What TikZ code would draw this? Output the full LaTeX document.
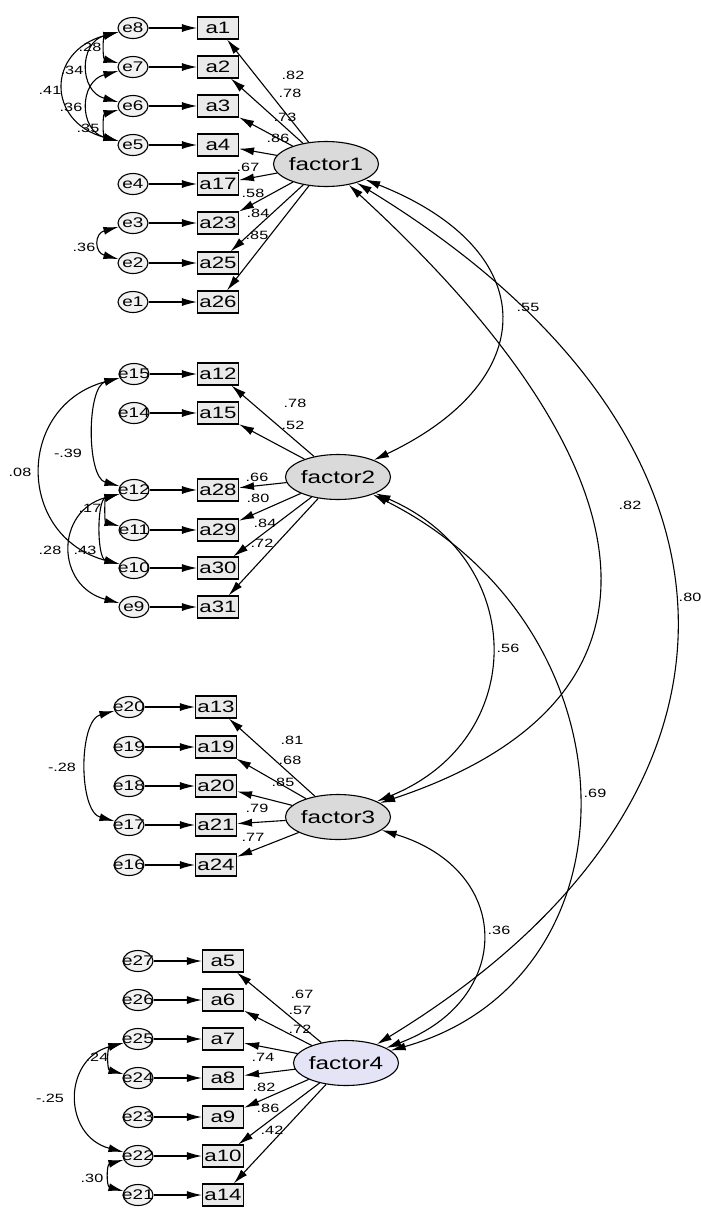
\documentclass[tikz,border=0pt]{standalone}
\usepackage{fontspec}
\setsansfont{Liberation Sans}[FakeStretch=1.35]
\usetikzlibrary{arrows.meta, shapes.geometric}
\definecolor{latent}{HTML}{DADADA}
\definecolor{latentb}{HTML}{E4E4F6}
\definecolor{item}{HTML}{EAEAEA}
\newcommand{\etxt}[1]{\makebox[0pt]{#1}}

\begin{document}
\begin{tikzpicture}[x=1pt, y=-1pt,
    >={Latex[length=15pt,width=8pt]}, font=\sffamily,
    fac/.style={ellipse, draw, fill=latent, line width=1.1pt, inner sep=0pt,
                minimum width=82pt, minimum height=45pt,
                font=\sffamily\fontsize{18}{18}\selectfont},
    obs/.style={rectangle, draw, fill=item, line width=1.1pt, inner sep=1pt,
                minimum width=41pt, minimum height=22pt,
                font=\sffamily\fontsize{16.5}{16.5}\selectfont},
    err/.style={ellipse, draw, fill=item!60, line width=1.1pt, inner sep=0pt,
                minimum width=30pt, minimum height=21pt,
                font=\sffamily\fontsize{14}{14}\selectfont},
    reg/.style={->, line width=1.1pt},
    cov/.style={<->, line width=1.1pt, bend right=75},
    cor/.style={<->, line width=1.1pt},
    est/.style={inner sep=0pt, font=\sffamily\fontsize{12}{12}\selectfont},
]
\useasboundingbox (0,0) rectangle (701,1211);

% factor 1
\node[fac] (f1) at (326,164) {factor1};
\node[err] (e8) at (133,28)  {\etxt{e8}}; \node[obs] (a1)  at (218,28)  {a1};
\node[err] (e7) at (133,67)  {\etxt{e7}}; \node[obs] (a2)  at (218,67)  {a2};
\node[err] (e6) at (133,106) {\etxt{e6}}; \node[obs] (a3)  at (218,106) {a3};
\node[err] (e5) at (133,145) {\etxt{e5}}; \node[obs] (a4)  at (218,145) {a4};
\node[err] (e4) at (133,184) {\etxt{e4}}; \node[obs] (a17) at (218,184) {a17};
\node[err] (e3) at (133,223) {\etxt{e3}}; \node[obs] (a23) at (218,223) {a23};
\node[err] (e2) at (133,263) {\etxt{e2}}; \node[obs] (a25) at (218,263) {a25};
\node[err] (e1) at (133,302) {\etxt{e1}}; \node[obs] (a26) at (218,302) {a26};

\draw[reg] (e8) -- (a1);  \draw[reg] (f1) -- (a1);
\draw[reg] (e7) -- (a2);  \draw[reg] (f1) -- (a2);
\draw[reg] (e6) -- (a3);  \draw[reg] (f1) -- (a3);
\draw[reg] (e5) -- (a4);  \draw[reg] (f1) -- (a4);
\draw[reg] (e4) -- (a17); \draw[reg] (f1) -- (a17);
\draw[reg] (e3) -- (a23); \draw[reg] (f1) -- (a23);
\draw[reg] (e2) -- (a25); \draw[reg] (f1) -- (a25);
\draw[reg] (e1) -- (a26); \draw[reg] (f1) -- (a26);

\draw[cov, looseness=1.35] (e8) to (e7);
\draw[cov, looseness=1.35] (e6) to (e5);
\draw[cov, looseness=1.5]  (e8) to (e6);
\draw[cov, looseness=1.5]  (e7) to (e5);
\draw[cov, looseness=1.75] (e8) to (e5);
\draw[cov, looseness=2.0]  (e3) to (e2);

\node[est] (l1) at (293,75)  {.82};
\node[est] (l2) at (290,93)  {.78};
\node[est] (l3) at (285,117) {.73};
\node[est] (l4) at (278,138) {.86};
\node[est] (l5) at (248,167) {.67};
\node[est] (l6) at (253,193) {.58};
\node[est] (l7) at (258,213) {.84};
\node[est] (l8) at (257,235) {.85};
\node[est] (c1) at (90,47)  {.28};
\node[est] (c2) at (72,70)  {.34};
\node[est] (c3) at (50,90)  {.41};
\node[est] (c4) at (71,107) {.36};
\node[est] (c5) at (88,128) {.35};
\node[est] (c6) at (84,247) {.36};

% factor 2
\node[fac] (f2) at (338,477) {factor2};
\node[err] (e15) at (134,374) {\etxt{e15}}; \node[obs] (a12) at (218,374) {a12};
\node[err] (e14) at (134,413) {\etxt{e14}}; \node[obs] (a15) at (218,413) {a15};
\node[err] (e12) at (134,490) {\etxt{e12}}; \node[obs] (a28) at (218,490) {a28};
\node[err] (e11) at (134,530) {\etxt{e11}}; \node[obs] (a29) at (218,530) {a29};
\node[err] (e10) at (134,568) {\etxt{e10}}; \node[obs] (a30) at (218,568) {a30};
\node[err] (e9)  at (134,607) {\etxt{e9}};  \node[obs] (a31) at (218,607) {a31};

\draw[reg] (e15) -- (a12); \draw[reg] (f2) -- (a12);
\draw[reg] (e14) -- (a15); \draw[reg] (f2) -- (a15);
\draw[reg] (e12) -- (a28); \draw[reg] (f2) -- (a28);
\draw[reg] (e11) -- (a29); \draw[reg] (f2) -- (a29);
\draw[reg] (e10) -- (a30); \draw[reg] (f2) -- (a30);
\draw[reg] (e9)  -- (a31); \draw[reg] (f2) -- (a31);

\draw[cov, looseness=1.48] (e15) to (e10);
\draw[cov, looseness=0.81] (e15) to (e12);
\draw[cov, looseness=1.23] (e12) to (e11);
\draw[cov, looseness=0.86] (e12) to (e10);
\draw[cov, looseness=1.56] (e12) to (e9);

\node[est] (l9)  at (295,403) {.78};
\node[est] (l10) at (293,425) {.52};
\node[est] (l11) at (257,477) {.66};
\node[est] (l12) at (258,498) {.80};
\node[est] (l13) at (265,523) {.84};
\node[est] (l14) at (262,543) {.72};
\node[est] (c7)  at (20,472)  {.08};
\node[est] (c8)  at (68,453)  {-.39};
\node[est] (c9)  at (90,508)  {.17};
\node[est] (c10) at (50,550)  {.28};
\node[est] (c11) at (85,550)  {.43};

% factor 3
\node[fac] (f3) at (338,817) {factor3};
\node[err] (e20) at (129,707) {\etxt{e20}}; \node[obs] (a13) at (216,707) {a13};
\node[err] (e19) at (129,747) {\etxt{e19}}; \node[obs] (a19) at (216,747) {a19};
\node[err] (e18) at (129,786) {\etxt{e18}}; \node[obs] (a20) at (216,786) {a20};
\node[err] (e17) at (129,825) {\etxt{e17}}; \node[obs] (a21) at (216,825) {a21};
\node[err] (e16) at (129,865) {\etxt{e16}}; \node[obs] (a24) at (216,865) {a24};

\draw[reg] (e20) -- (a13); \draw[reg] (f3) -- (a13);
\draw[reg] (e19) -- (a19); \draw[reg] (f3) -- (a19);
\draw[reg] (e18) -- (a20); \draw[reg] (f3) -- (a20);
\draw[reg] (e17) -- (a21); \draw[reg] (f3) -- (a21);
\draw[reg] (e16) -- (a24); \draw[reg] (f3) -- (a24);

\draw[cov, looseness=0.87] (e20) to (e17);

\node[est] (l15) at (292,740) {.81};
\node[est] (l16) at (290,760) {.68};
\node[est] (l17) at (283,782) {.85};
\node[est] (l18) at (257,808) {.79};
\node[est] (l19) at (253,837) {.77};
\node[est] (c12) at (62,767)  {-.28};

% factor 4
\node[fac, fill=latentb] (f4) at (346,1063) {factor4};
\node[err] (e27) at (138,961)  {\etxt{e27}}; \node[obs] (a5)  at (223,961)  {a5};
\node[err] (e26) at (138,1000) {\etxt{e26}}; \node[obs] (a6)  at (223,1000) {a6};
\node[err] (e25) at (138,1039) {\etxt{e25}}; \node[obs] (a7)  at (223,1039) {a7};
\node[err] (e24) at (138,1078) {\etxt{e24}}; \node[obs] (a8)  at (223,1078) {a8};
\node[err] (e23) at (138,1117) {\etxt{e23}}; \node[obs] (a9)  at (223,1117) {a9};
\node[err] (e22) at (138,1156) {\etxt{e22}}; \node[obs] (a10) at (223,1156) {a10};
\node[err] (e21) at (138,1195) {\etxt{e21}}; \node[obs] (a14) at (223,1195) {a14};

\draw[reg] (e27) -- (a5);  \draw[reg] (f4) -- (a5);
\draw[reg] (e26) -- (a6);  \draw[reg] (f4) -- (a6);
\draw[reg] (e25) -- (a7);  \draw[reg] (f4) -- (a7);
\draw[reg] (e24) -- (a8);  \draw[reg] (f4) -- (a8);
\draw[reg] (e23) -- (a9);  \draw[reg] (f4) -- (a9);
\draw[reg] (e22) -- (a10); \draw[reg] (f4) -- (a10);
\draw[reg] (e21) -- (a14); \draw[reg] (f4) -- (a14);

\draw[cov, looseness=1.4]  (e25) to (e24);
\draw[cov, looseness=1.48] (e25) to (e22);
\draw[cov, looseness=1.45] (e22) to (e21);

\node[est] (l20) at (302,994)  {.67};
\node[est] (l21) at (300,1010) {.57};
\node[est] (l22) at (300,1029) {.72};
\node[est] (l23) at (263,1057) {.74};
\node[est] (l24) at (264,1087) {.82};
\node[est] (l25) at (268,1108) {.86};
\node[est] (l26) at (272,1130) {.42};
\node[est] (c13) at (97,1057)  {.24};
\node[est] (c14) at (50,1098)  {-.25};
\node[est] (c15) at (92,1178)  {.30};

% factor correlations
\draw[cor] (f1) .. controls (543,250) and (543,380) .. (f2);
\draw[cor] (f1) .. controls (660,470) and (690,700) .. (f3);
\draw[cor] (f1) .. controls (778,440) and (778,800) .. (f4);
\draw[cor] (f2) .. controls (529,560) and (529,740) .. (f3);
\draw[cor] (f2) .. controls (643,630) and (643,980) .. (f4);
\draw[cor] (f3) .. controls (514,870) and (514,1000) .. (f4);

\node[est] (r1) at (528,307) {.55};
\node[est] (r2) at (630,505) {.82};
\node[est] (r3) at (690,597) {.80};
\node[est] (r4) at (508,648) {.56};
\node[est] (r5) at (595,793) {.69};
\node[est] (r6) at (499,930) {.36};

\end{tikzpicture}
\end{document}
